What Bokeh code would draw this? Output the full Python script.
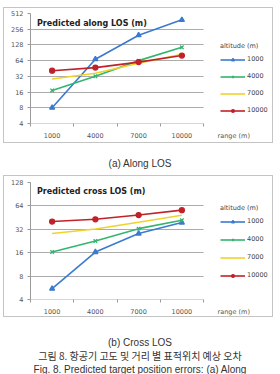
from bokeh.plotting import figure
from bokeh.models import FixedTicker, Legend, LegendItem, Label, Div, Range1d, BasicTickFormatter
from bokeh.layouts import column
from bokeh.embed import file_html
from bokeh.resources import INLINE
import numpy as np

# Target range categories (m) and aircraft altitudes (m)
ranges = ["1000", "4000", "7000", "10000"]
altitudes = ["1000", "4000", "7000", "10000"]
range_axis_label = "range (m)"

# Predicted along-LOS error (m) per altitude
along_1000 = [8, 68, 196, 387]
along_4000 = [17.2, 32, 64, 115]
along_7000 = [28.4, 36.6, 57, 85]
along_10000 = [41, 47, 60, 80]

# Predicted cross-LOS error (m) per altitude
cross_1000 = [5.5, 16.3, 28.2, 39]
cross_4000 = [16.3, 22.6, 32.6, 41.8]
cross_7000 = [28.2, 32.3, 39.4, 48.5]
cross_10000 = [40.2, 43, 48.8, 56.4]

along_ticks = [4, 8, 16, 32, 64, 128, 256, 512]
cross_ticks = [4, 8, 16, 32, 64, 128]

colors = ["#3A7BD0", "#34B56E", "#F0D22E", "#C0222A"]
markers = ["triangle", "x", None, "circle"]

GRID = "#ababab"
AXIS = "#9a9a9a"
TICKTXT = "#555555"

FIG_W = 270
LEFT = 26          # space for the y tick labels
PLOT_W = 173       # width taken by the four range categories
RIGHT = 1


def make_chart(title, series, yticks, height, top, bottom, margin, title_y, legend_pos, legend_spacing):
    n = len(ranges)
    xs = np.arange(n) + 0.5
    frame_w = FIG_W - LEFT - RIGHT
    x_end = n * frame_w / PLOT_W   # room on the right for the legend

    p = figure(width=FIG_W, height=height, y_axis_type="log",
               x_range=Range1d(0, x_end),
               y_range=Range1d(yticks[0] * 0.998, yticks[-1]),
               output_backend="svg", toolbar_location=None,
               min_border_left=LEFT, min_border_right=RIGHT,
               min_border_top=top, min_border_bottom=bottom,
               margin=margin)
    p.styles = {"border": "1px solid #c4c4c4"}
    p.outline_line_color = None
    p.background_fill_color = "white"
    p.border_fill_color = "white"

    p.xgrid.visible = False
    p.ygrid.grid_line_color = GRID
    p.ygrid.grid_line_width = 1
    p.ygrid.ticker = FixedTicker(ticks=yticks)
    p.ygrid.cross_bounds = (0, n)

    p.yaxis.ticker = FixedTicker(ticks=yticks)
    p.yaxis.formatter = BasicTickFormatter()
    p.yaxis.axis_line_color = AXIS
    p.yaxis.major_tick_line_color = AXIS
    p.yaxis.major_tick_out = 3
    p.yaxis.major_tick_in = 0
    p.yaxis.minor_tick_line_color = None
    p.yaxis.major_label_text_font_size = "6.5px"
    p.yaxis.major_label_text_color = TICKTXT
    p.yaxis.major_label_text_font = "DejaVu Sans"
    p.yaxis.major_label_standoff = 4

    # category labels centred between boundary ticks, axis title at the end of the axis
    label_x = n + 0.7
    p.xaxis.ticker = FixedTicker(ticks=list(xs) + [label_x], minor_ticks=list(range(n + 1)))
    overrides = {float(x): r for x, r in zip(xs, ranges)}
    overrides[float(label_x)] = range_axis_label
    p.xaxis.major_label_overrides = overrides
    p.xaxis.axis_line_color = None
    p.xaxis.major_tick_line_color = None
    p.xaxis.major_tick_out = 3
    p.xaxis.major_tick_in = 0
    p.xaxis.minor_tick_line_color = AXIS
    p.xaxis.minor_tick_out = 3
    p.xaxis.minor_tick_in = 0
    p.xaxis.major_label_text_font_size = "6.5px"
    p.xaxis.major_label_text_color = TICKTXT
    p.xaxis.major_label_text_font = "DejaVu Sans"
    p.xaxis.major_label_standoff = 5

    items = []
    for name, vals, c, m in zip(altitudes, series, colors, markers):
        rs = [p.line(xs, vals, line_color=c, line_width=1.6)]
        if m is not None:
            rs.append(p.scatter(xs, vals, marker=m, size=5,
                                fill_color=c, line_color=c, line_width=1.3))
        items.append(LegendItem(label=name, renderers=rs))

    legend = Legend(items=items, location=legend_pos, title="altitude (m)",
                    title_text_font_size="6.5px", title_text_font_style="normal",
                    title_text_color="#444444", title_standoff=4,
                    title_text_font="DejaVu Sans",
                    label_text_font_size="6.5px", label_text_color="#444444",
                    label_text_font="DejaVu Sans",
                    glyph_width=25, glyph_height=7, label_height=10,
                    label_standoff=2, spacing=legend_spacing, padding=2,
                    margin=0, border_line_color=None, background_fill_alpha=0)
    p.add_layout(legend, "center")

    p.add_layout(Label(x=0.15, y=title_y, text=title, text_font_size="8px",
                       text_font_style="bold", text_font="DejaVu Sans",
                       text_color="#222222", text_baseline="middle"))
    return p


p1 = make_chart("Predicted along LOS (m)",
                [along_1000, along_4000, along_7000, along_10000],
                along_ticks, 136, 5, 21, (7, 0, 0, 3), 330, (190, 8), 7)

cap_a = Div(text="<div style='padding-top:14px; line-height:13px'>(a) Along LOS</div>",
            width=280, height=32, margin=(0, 0, 0, 0),
            styles={"text-align": "center", "font-size": "10px",
                    "font-family": "Liberation Sans Narrow, Liberation Sans, sans-serif",
                    "color": "#333333"})

p2 = make_chart("Predicted cross LOS (m)",
                [cross_1000, cross_4000, cross_7000, cross_10000],
                cross_ticks, 142, 6, 19, (0, 0, 0, 3), 98, (190, 19), 8)

cap_b = Div(text=("<div style='padding-top:19px; line-height:13px'>(b) Cross LOS<br>"
                  "<span style='font-family:\"Noto Sans CJK KR\"'>그림 8. 항공기 고도 및 거리 별 표적위치 예상 오차</span><br>"
                  "Fig. 8. Predicted target position errors: (a) Along</div>"),
            width=280, height=52, margin=(0, 0, 0, 0),
            styles={"text-align": "center", "font-size": "10px",
                    "font-family": "Liberation Sans Narrow, Liberation Sans, sans-serif",
                    "color": "#333333"})

layout = column(p1, cap_a, p2, cap_b, spacing=0, margin=0)
open("out.html", "w").write(file_html(layout, INLINE))
